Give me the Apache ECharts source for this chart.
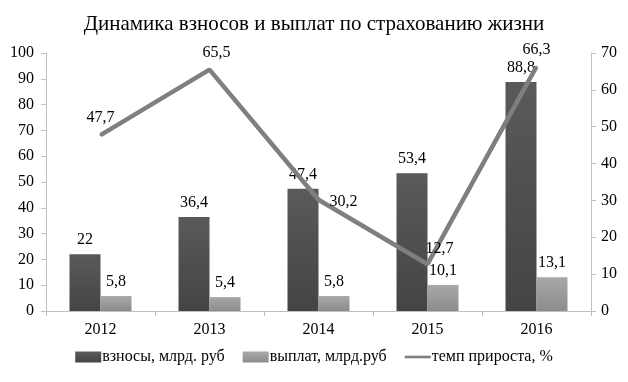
<!DOCTYPE html>
<html><head><meta charset="utf-8">
<script src="https://cdn.jsdelivr.net/npm/echarts@6/dist/echarts.min.js"></script>
<style>html,body{margin:0;padding:0;background:#fff}#c{width:628px;height:382px}</style>
</head><body><div id="c"></div>
<script>
const categories = ['2012','2013','2014','2015','2016'];
const contributions = [22, 36.4, 47.4, 53.4, 88.8];
const payouts = [5.8, 5.4, 5.8, 10.1, 13.1];
const growth = [47.7, 65.5, 30.2, 12.7, 66.3];
const seriesNames = ['взносы, млрд. руб', 'выплат, млрд.руб', 'темп прироста, %'];
const titleText = 'Динамика взносов и выплат по страхованию жизни';

const font = "'Liberation Serif','Times New Roman',serif";
const fmt = v => String(v).replace('.', ',');
const lineLabelPos = [
  {position:'top', offset:[0,0]},
  {position:'top', offset:[7,0]},
  {position:'right', offset:[2,2]},
  {position:'top', offset:[12,2]},
  {position:'top', offset:[0,0]}
];

const chart = echarts.init(document.getElementById('c'));
chart.setOption({
  animation:false,
  title:{text:titleText,left:'center',top:9,textStyle:{fontFamily:font,fontSize:21,fontWeight:'normal',color:'#000'}},
  grid:{left:46,right:37,top:53,bottom:71},
  legend:{bottom:12,left:'center',itemGap:18,itemWidth:26,itemHeight:11,
    textStyle:{fontFamily:font,fontSize:16,color:'#000',padding:[0,0,0,-4]},
    data:[{name:seriesNames[0],icon:'rect'},{name:seriesNames[1],icon:'rect'},
      {name:seriesNames[2],icon:'path://M0,4L30,4L30,7L0,7Z',itemStyle:{color:'#7f7f7f',opacity:1}}]},
  xAxis:{type:'category',data:categories,
    axisLine:{lineStyle:{color:'#bfbfbf'}},
    axisTick:{show:true,length:5,lineStyle:{color:'#bfbfbf'}},
    axisLabel:{fontFamily:font,fontSize:16,color:'#000',margin:11}},
  yAxis:[
    {type:'value',min:0,max:100,interval:10,splitLine:{show:false},
      axisLine:{show:true,lineStyle:{color:'#bfbfbf'}},
      axisTick:{show:true,length:5,lineStyle:{color:'#bfbfbf'}},
      axisLabel:{fontFamily:font,fontSize:16,color:'#000',margin:12}},
    {type:'value',min:0,max:70,interval:10,splitLine:{show:false},position:'right',
      axisLine:{show:true,lineStyle:{color:'#bfbfbf'}},
      axisTick:{show:true,length:5,lineStyle:{color:'#bfbfbf'}},
      axisLabel:{fontFamily:font,fontSize:16,color:'#000',margin:10}}
  ],
  series:[
    {name:seriesNames[0],type:'bar',data:contributions,barWidth:31,barGap:'0%',
      itemStyle:{color:new echarts.graphic.LinearGradient(0,0,0,1,[{offset:0,color:'#5a5a5a'},{offset:1,color:'#444'}])},
      label:{show:true,position:'top',distance:6,fontFamily:font,fontSize:16,color:'#000',formatter:p=>fmt(p.value)}},
    {name:seriesNames[1],type:'bar',data:payouts,barWidth:31,
      itemStyle:{color:new echarts.graphic.LinearGradient(0,0,0,1,[{offset:0,color:'#a8a8a8'},{offset:1,color:'#8c8c8c'}])},
      label:{show:true,position:'top',distance:6,fontFamily:font,fontSize:16,color:'#000',formatter:p=>fmt(p.value)}},
    {name:seriesNames[2],type:'line',yAxisIndex:1,symbol:'circle',symbolSize:2,showSymbol:true,
      data:growth.map((v,i)=>({value:v,label:lineLabelPos[i]})),
      lineStyle:{color:'#7f7f7f',width:4.5},itemStyle:{color:'#7f7f7f'},
      label:{show:true,distance:8,fontFamily:font,fontSize:16,color:'#000',formatter:p=>fmt(p.value)}}
  ]
});
</script></body></html>
